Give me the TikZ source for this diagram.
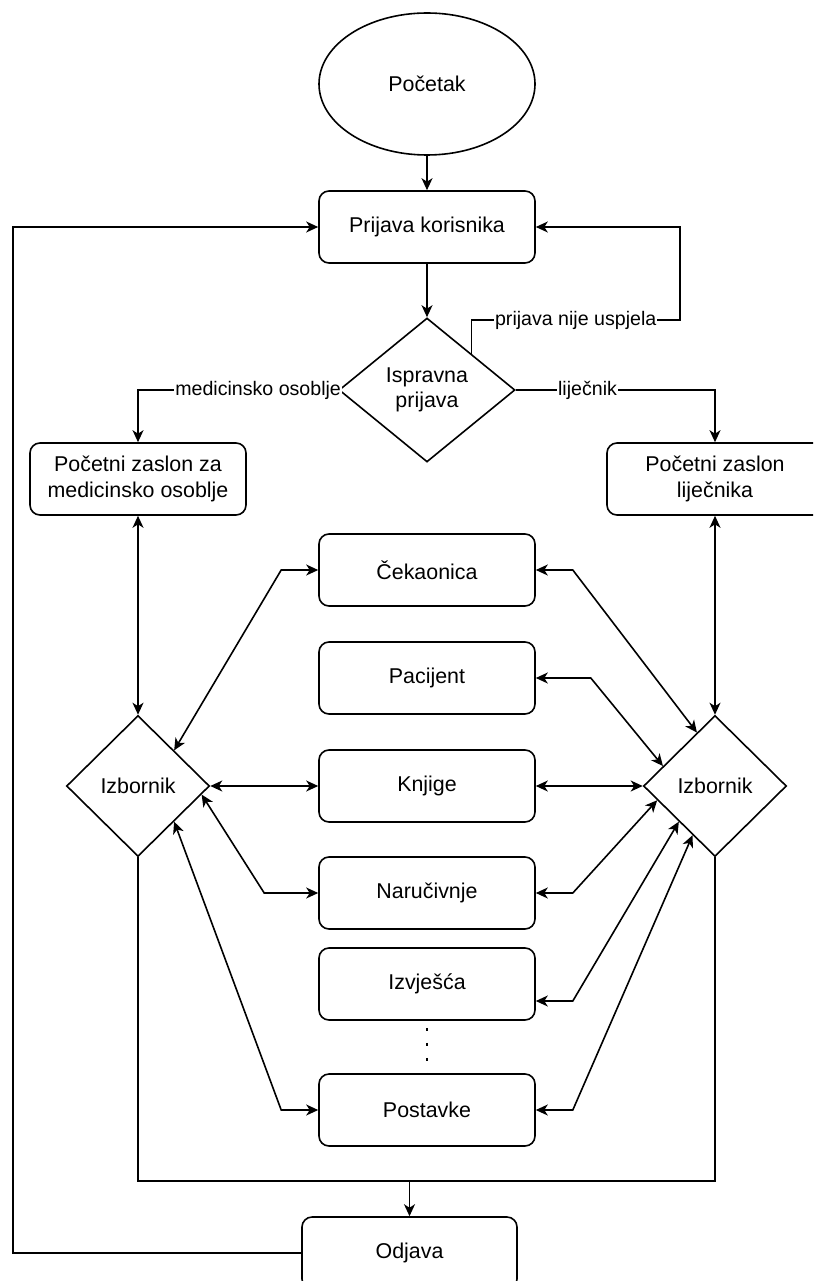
\documentclass[tikz,border=0pt]{standalone}
\usepackage{fontspec}
\setmainfont{Liberation Sans}
\usetikzlibrary{shapes.geometric,arrows.meta,calc}
\newcommand{\nodefont}{\fontsize{21.4}{25.7}\selectfont}
\newcommand{\edgefont}{\fontsize{19.6}{23}\selectfont}
\begin{document}
\begin{tikzpicture}[x=1pt,y=-1pt,
  line width=1.6pt,
  >={Stealth[length=12pt,width=11pt,inset=3.5pt]},
  box/.style={draw, rounded corners=10pt, minimum width=216pt, minimum height=72pt, inner sep=2pt, align=center, font=\nodefont},
  dec/.style={draw, diamond, inner sep=0pt, shape aspect=1.2, align=center, font=\nodefont},
  startnode/.style={draw, ellipse, minimum width=216pt, minimum height=142pt, inner sep=0pt, font=\nodefont},
  elab/.style={fill=white, inner sep=1pt, font=\edgefont},
  dotline/.style={dash pattern=on 3pt off 12pt, dash phase=8pt},
]
\clip (0,0) rectangle (813,1281);
\fill[white] (0,0) rectangle (813,1281);

\node[startnode] (start) at (427,84) {Početak};
\node[box] (prij) at (427,227) {Prijava korisnika};
\node[dec, minimum width=176pt, minimum height=144pt] (isp) at (427,390) {Ispravna\\prijava};
\node[box] (pmed) at (138,479) {Početni zaslon za\\medicinsko osoblje};
\node[box] (plij) at (715,479) {Početni zaslon\\liječnika};
\node[dec, minimum width=143pt, minimum height=141pt] (izL) at (138,786) {Izbornik};
\node[dec, minimum width=143pt, minimum height=141pt] (izR) at (715,786) {Izbornik};
\node[box] (cek) at (427,570) {Čekaonica};
\node[box] (pac) at (427,678) {Pacijent};
\node[box] (knj) at (427,786) {Knjige};
\node[box] (nar) at (427,893) {Naručivnje};
\node[box] (izv) at (427,984) {Izvješća};
\node[box] (pos) at (427,1110) {Postavke};
\node[box, minimum width=215pt] (odj) at (409.5,1253) {Odjava};

\coordinate (fail) at (680,320);
\coordinate (mrg) at (409.5,1181);
\coordinate (lpt) at (13,227);

\draw[->] (start.south) -- (prij.north);
\draw[->] (prij.south) -- (isp.north);
\draw[->] (isp.west) -| node[elab,pos=0.2]{medicinsko osoblje} (pmed.north);
\draw[->] (isp.east) -| node[elab,pos=0.18]{liječnik} (plij.north);
\draw[->] ($(isp.north)!0.5!(isp.east)$) |- node[elab,pos=0.75]{prijava nije uspjela} (fail) |- (prij.east);

\draw[<->] (pmed.south) -- (izL.north);
\draw[<->] (plij.south) -- (izR.north);

\draw[<->] ($(izL.north)!0.5!(izL.east)$) -- ($(cek.west)+(-37,0)$) -- (cek.west);
\draw[<->] (izL.east) -- (knj.west);
\draw[<->] ($(izL.east)!0.12!(izL.south)$) -- ($(nar.west)+(-54,0)$) -- (nar.west);
\draw[<->] ($(izL.east)!0.5!(izL.south)$) -- ($(pos.west)+(-37,0)$) -- (pos.west);

\draw[<->] ($(izR.north)!0.25!(izR.west)$) -- ($(cek.east)+(37,0)$) -- (cek.east);
\draw[<->] ($(izR.north)!0.72!(izR.west)$) -- ($(pac.east)+(55,0)$) -- (pac.east);
\draw[<->] (izR.west) -- (knj.east);
\draw[<->] ($(izR.west)!0.2!(izR.south)$) -- ($(nar.east)+(37,0)$) -- (nar.east);
\draw[<->] ($(izR.west)!0.5!(izR.south)$) -- ($(izv.east)+(37,17)$) -- ($(izv.east)+(0,17)$);
\draw[<->] ($(izR.west)!0.69!(izR.south)$) -- ($(pos.east)+(37,0)$) -- (pos.east);

\draw[dotline] (izv.south) -- (pos.north);

\draw (izL.south) |- (mrg) -| (izR.south);
\draw[->] (mrg) -- (odj.north);
\draw[->] (odj.west) -| (lpt) -- (prij.west);
\end{tikzpicture}
\end{document}
